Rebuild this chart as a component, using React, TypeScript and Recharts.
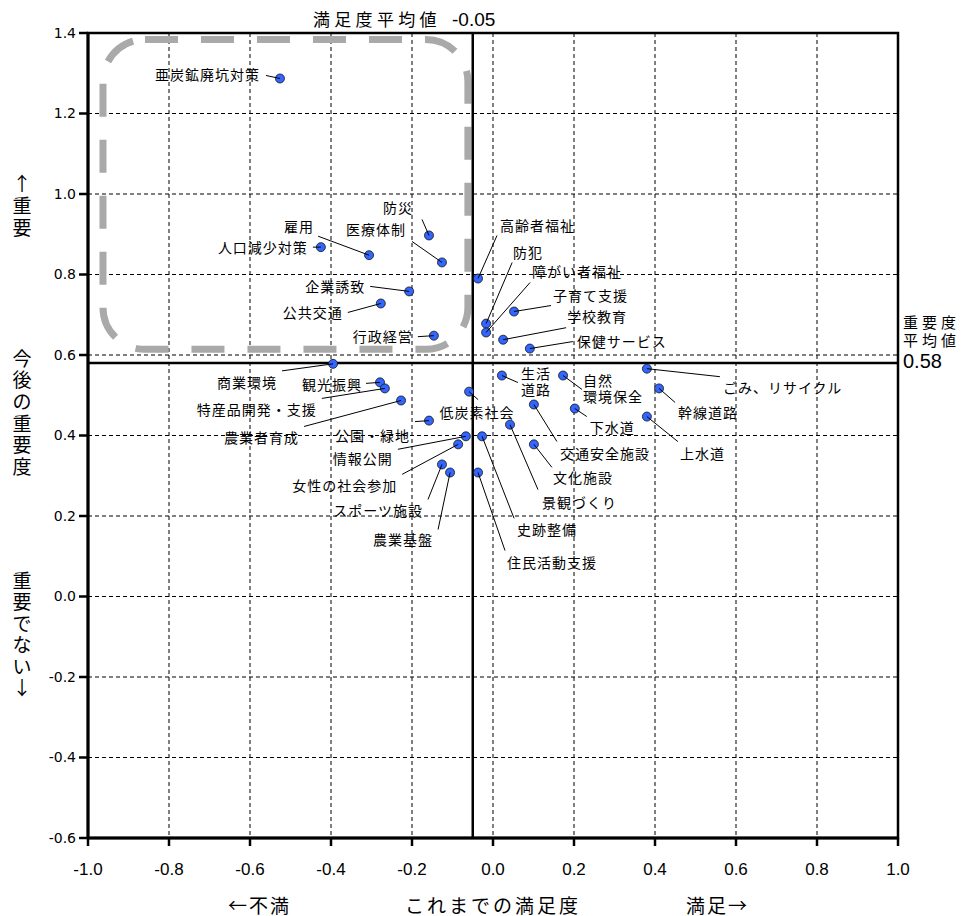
import React from 'react';
import {
  ScatterChart,
  Scatter,
  XAxis,
  YAxis,
  CartesianGrid,
  ReferenceLine,
  ReferenceArea,
} from 'recharts';

// ---- data ----
const categories = [
  '亜炭鉱廃坑対策', '防災', '医療体制', '雇用', '人口減少対策', '企業誘致', '公共交通', '行政経営',
  '高齢者福祉', '防犯', '障がい者福祉', '子育て支援', '学校教育', '保健サービス',
  '商業環境', '観光振興', '特産品開発・支援', '農業者育成', '公園・緑地', '低炭素社会',
  '情報公開', '女性の社会参加', 'スポーツ施設', '農業基盤', '史跡整備', '住民活動支援',
  '生活道路', '自然環境保全', '交通安全施設', '景観づくり', '文化施設', '下水道', '上水道',
  '幹線道路', 'ごみ、リサイクル',
];

const displayLabels = [
  '亜炭鉱廃坑対策', '防災', '医療体制', '雇用', '人口減少対策', '企業誘致', '公共交通', '行政経営',
  '高齢者福祉', '防犯', '障がい者福祉', '子育て支援', '学校教育', '保健サービス',
  '商業環境', '観光振興', '特産品開発・支援', '農業者育成', '公園・緑地', '低炭素社会',
  '情報公開', '女性の社会参加', 'スポーツ施設', '農業基盤', '史跡整備', '住民活動支援',
  '生活\n道路', '自然\n環境保全', '交通安全施設', '景観づくり', '文化施設', '下水道', '上水道',
  '幹線道路', 'ごみ、リサイクル',
];

// これまでの満足度 (x)
const satisfaction = [
  -0.526, -0.158, -0.126, -0.306, -0.425, -0.207, -0.277, -0.146,
  -0.037, -0.017, -0.017, 0.052, 0.025, 0.091,
  -0.395, -0.279, -0.267, -0.227, -0.158, -0.059,
  -0.067, -0.086, -0.126, -0.106, -0.027, -0.037,
  0.022, 0.173, 0.101, 0.042, 0.101, 0.202, 0.38,
  0.41, 0.38,
];

// 今後の重要度 (y)
const importance = [
  1.287, 0.897, 0.83, 0.848, 0.868, 0.758, 0.728, 0.648,
  0.79, 0.678, 0.656, 0.708, 0.638, 0.616,
  0.578, 0.532, 0.517, 0.487, 0.437, 0.509,
  0.398, 0.378, 0.328, 0.308, 0.398, 0.308,
  0.549, 0.549, 0.477, 0.427, 0.378, 0.467, 0.447,
  0.517, 0.566,
];

const xTicks = [-1.0, -0.8, -0.6, -0.4, -0.2, 0.0, 0.2, 0.4, 0.6, 0.8, 1.0];
const yTicks = [-0.6, -0.4, -0.2, 0.0, 0.2, 0.4, 0.6, 0.8, 1.0, 1.2, 1.4];

const satisfactionMean = -0.05;
const importanceMean = 0.58;

// highlighted region (data coordinates)
const highlightBox = { x1: -0.963, x2: -0.062, y1: 0.614, y2: 1.384 };

// label layout: [dx, dy, anchor, leaderDx, leaderDy] (pixel offsets from the point)
type Anchor = 'start' | 'middle' | 'end';
const labelLayout: [number, number, Anchor, number, number][] = [
  [-20, -4, 'end', -14, -3],
  [-31, -28, 'middle', -7, -16],
  [-66, -33, 'middle', -30, -21],
  [-70, -29, 'middle', -51, -19],
  [-13, 0, 'end', -8, 0],
  [-44, -5, 'end', -39, -5],
  [-38, 9, 'end', -33, 9],
  [-21, 0, 'end', -16, 1],
  [22, -54, 'start', 19, -43],
  [27, -72, 'start', 26, -61],
  [46, -61, 'start', 44, -50],
  [39, -17, 'start', 37, -6],
  [64, -24, 'start', 63, -12],
  [47, -8, 'start', 43, -7],
  [-56, 18, 'end', -51, 7],
  [-18, 2, 'end', -14, 1],
  [-68, 21, 'end', -63, 10],
  [-102, 37, 'end', -97, 26],
  [-19, 14, 'end', -14, 1],
  [8, 20, 'middle', 9, 8],
  [-73, 22, 'end', -68, 13],
  [-61, 41, 'end', -56, 30],
  [-19, 46, 'end', -14, 35],
  [-17, 66, 'end', -12, 57],
  [35, 93, 'start', 32, 82],
  [29, 89, 'start', 27, 78],
  [19, -3, 'start', 16, 7],
  [20, 4, 'start', 19, 14],
  [26, 48, 'start', 23, 37],
  [32, 77, 'start', 28, 65],
  [19, 33, 'start', 18, 23],
  [15, 18, 'start', 12, 8],
  [33, 36, 'start', 31, 25],
  [19, 24, 'start', 16, 14],
  [76, 18, 'start', 73, 8],
];

const tableData = categories.map((name, i) => ({
  name,
  i,
  x: satisfaction[i],
  y: importance[i],
}));

const W = 962;
const H = 908;
const JP = '"Noto Sans CJK JP", "Noto Sans CJK SC", sans-serif';

const fmt = (v: number) => (Math.abs(v) < 1e-9 ? '0.0' : v.toFixed(1));

function PointShape(props: any) {
  const { cx, cy, payload } = props;
  if (cx == null || cy == null || !payload) return null;
  const [dx, dy, anchor, lx, ly] = labelLayout[payload.i];
  const lines = displayLabels[payload.i].split('\n');
  return (
    <g>
      <circle cx={cx} cy={cy} r={4.5} fill="#3366ff" stroke="#111" strokeWidth={0.8} />
      <line x1={cx + lx} y1={cy + ly} x2={cx} y2={cy} stroke="#000" strokeWidth={1} />
      <text
        x={cx + dx}
        y={cy + dy}
        textAnchor={anchor}
        dominantBaseline="central"
        fontSize={14}
        letterSpacing={1}
        fontFamily={JP}
        fill="#000"
      >
        {lines.map((l, k) => (
          <tspan key={k} x={cx + dx} dy={k === 0 ? 0 : 16}>
            {l}
          </tspan>
        ))}
      </text>
    </g>
  );
}

function RoundedBox(props: any) {
  const { x, y, width, height } = props;
  if (x == null) return null;
  return (
    <rect
      x={x}
      y={y}
      width={width}
      height={height}
      rx={42}
      ry={42}
      fill="none"
      stroke="#a9a9a9"
      strokeWidth={7}
      strokeDasharray="33 23"
    />
  );
}

function VText({ text, x, y0, step }: { text: string; x: number; y0: number; step: number }) {
  return (
    <g>
      {Array.from(text).map((c, k) => (
        <text
          key={k}
          x={x}
          y={y0 + k * step}
          textAnchor="middle"
          dominantBaseline="central"
          fontSize={19}
          fontFamily={JP}
          fill="#000"
        >
          {c}
        </text>
      ))}
    </g>
  );
}

export default function App() {
  return (
    <div style={{ position: 'relative', width: W, height: H, background: '#fff' }}>
      <ScatterChart width={W} height={H} margin={{ top: 25, right: 72, bottom: 0, left: 0 }}>
        <CartesianGrid stroke="#000" strokeWidth={1} strokeDasharray="4 3" />
        <XAxis
          type="number"
          dataKey="x"
          domain={[-1, 1]}
          ticks={xTicks}
          interval={0}
          tickFormatter={fmt}
          allowDataOverflow
          height={78}
          tickSize={8}
          tickMargin={17}
          tick={{ fontSize: 17, fill: '#000', fontFamily: '"Liberation Sans", Arial, sans-serif' }}
          tickLine={{ stroke: '#000', strokeWidth: 2.5 }}
          axisLine={{ stroke: '#000', strokeWidth: 3 }}
        />
        <YAxis
          type="number"
          dataKey="y"
          domain={[-0.6, 1.4]}
          ticks={yTicks}
          interval={0}
          tickFormatter={fmt}
          allowDataOverflow
          width={80}
          tickSize={9}
          tickMargin={3}
          tick={{ fontSize: 14, fill: '#000', fontFamily: '"DejaVu Sans", sans-serif' }}
          tickLine={{ stroke: '#000', strokeWidth: 2.5 }}
          axisLine={{ stroke: '#000', strokeWidth: 3 }}
        />
        <ReferenceArea
          x1={-1}
          x2={1}
          y1={-0.6}
          y2={1.4}
          fill="none"
          fillOpacity={0}
          stroke="#000"
          strokeWidth={2.5}
        />
        <ReferenceArea
          x1={highlightBox.x1}
          x2={highlightBox.x2}
          y1={highlightBox.y1}
          y2={highlightBox.y2}
          shape={RoundedBox}
        />
        <ReferenceLine x={satisfactionMean} stroke="#000" strokeWidth={2.5} />
        <ReferenceLine y={importanceMean} stroke="#000" strokeWidth={2.5} />
        <Scatter data={tableData} shape={PointShape} isAnimationActive={false} />
      </ScatterChart>

      <svg
        width={W}
        height={H}
        style={{ position: 'absolute', left: 0, top: 0, pointerEvents: 'none' }}
      >
        {/* top: satisfaction mean */}
        <text x={305} y={18} fontSize={17} letterSpacing={4.3} fontFamily={JP} fill="#000">
          満足度平均値
        </text>
        <text x={444} y={18} fontSize={19} fontFamily='"Liberation Sans", Arial, sans-serif' fill="#000">
          -0.05
        </text>

        {/* right: importance mean */}
        <text x={895} y={313} dominantBaseline="central" fontSize={15} letterSpacing={4} fontFamily={JP} fill="#000">
          重要度
        </text>
        <text x={895} y={331} dominantBaseline="central" fontSize={15} letterSpacing={4} fontFamily={JP} fill="#000">
          平均値
        </text>
        <text x={895} y={360} fontSize={20} fontFamily='"Liberation Sans", Arial, sans-serif' fill="#000">
          0.58
        </text>

        {/* left vertical titles */}
        <VText text="↑重要" x={14} y0={174} step={22} />
        <VText text="今後の重要度" x={14} y0={349} step={21.7} />
        <VText text="重要でない↓" x={14} y0={571} step={21.5} />

        {/* bottom titles */}
        <text x={220} y={896} dominantBaseline="central" fontSize={19} letterSpacing={2} fontFamily={JP} fill="#000">
          ←不満
        </text>
        <text x={397} y={896} dominantBaseline="central" fontSize={19} letterSpacing={3} fontFamily={JP} fill="#000">
          これまでの満足度
        </text>
        <text x={678} y={896} dominantBaseline="central" fontSize={19} letterSpacing={2} fontFamily={JP} fill="#000">
          満足→
        </text>
      </svg>
    </div>
  );
}
